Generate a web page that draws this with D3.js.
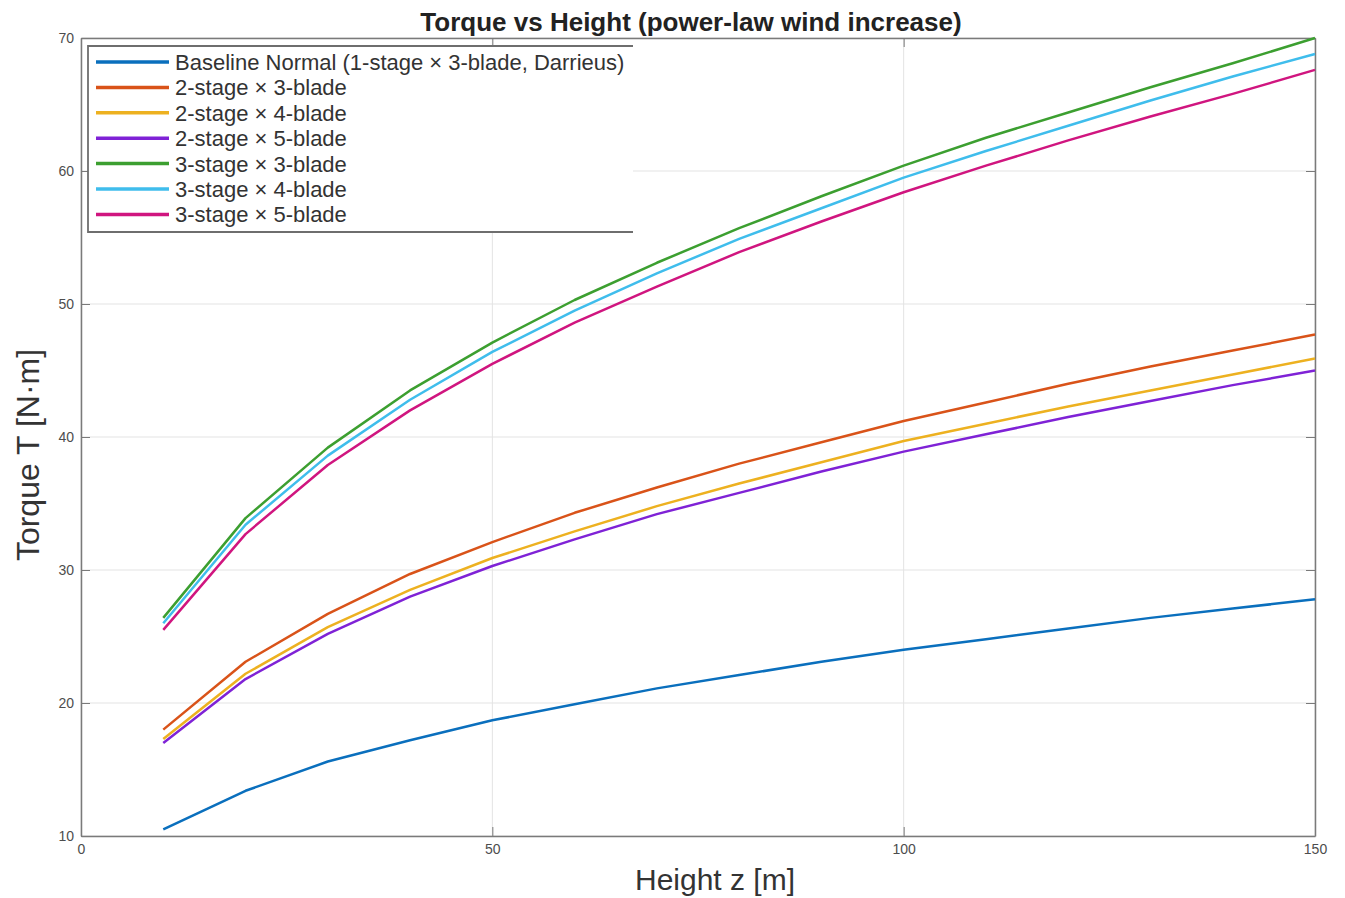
<!DOCTYPE html>
<html>
<head>
<meta charset="utf-8">
<script src="https://cdn.jsdelivr.net/npm/d3@7"></script>
<style>
  body { margin: 0; background: #fff; }
  svg { font-family: "Liberation Sans", Arial, sans-serif; }
</style>
</head>
<body>
<svg id="chart" width="1345" height="898"></svg>
<script>
// heights z [m]
const heights = [10, 20, 30, 40, 50, 60, 70, 80, 90, 100, 110, 120, 130, 140, 150];

const seriesNames = [
    "Baseline Normal (1-stage \u00d7 3-blade, Darrieus)",
    "2-stage \u00d7 3-blade",
    "2-stage \u00d7 4-blade",
    "2-stage \u00d7 5-blade",
    "3-stage \u00d7 3-blade",
    "3-stage \u00d7 4-blade",
    "3-stage \u00d7 5-blade"
];

const baseline = [10.5, 13.4, 15.6, 17.2, 18.7, 19.9, 21.1, 22.1, 23.1, 24.0, 24.8, 25.6, 26.4, 27.1, 27.8];
const s2x3 = [18.0, 23.1, 26.7, 29.7, 32.1, 34.3, 36.2, 38.0, 39.6, 41.2, 42.6, 44.0, 45.3, 46.5, 47.7];
const s2x4 = [17.3, 22.2, 25.7, 28.5, 30.9, 32.9, 34.8, 36.5, 38.1, 39.7, 41.0, 42.3, 43.5, 44.7, 45.9];
const s2x5 = [17.0, 21.8, 25.2, 28.0, 30.3, 32.3, 34.2, 35.8, 37.4, 38.9, 40.2, 41.5, 42.7, 43.9, 45.0];
const s3x3 = [26.4, 33.9, 39.2, 43.5, 47.1, 50.3, 53.1, 55.7, 58.1, 60.4, 62.5, 64.4, 66.3, 68.1, 70.0];
const s3x4 = [26.0, 33.4, 38.6, 42.8, 46.4, 49.5, 52.3, 54.9, 57.2, 59.5, 61.5, 63.4, 65.3, 67.1, 68.8];
const s3x5 = [25.5, 32.7, 37.9, 42.0, 45.5, 48.6, 51.3, 53.9, 56.2, 58.4, 60.4, 62.3, 64.1, 65.8, 67.6];

const xTicks = [0, 50, 100, 150];
const yTicks = [10, 20, 30, 40, 50, 60, 70];
const colors = ["#0a6fbd", "#d95319", "#edb120", "#7f22d6", "#3c9f30", "#3fbdec", "#d0157f"];

const allSeries = [baseline, s2x3, s2x4, s2x5, s3x3, s3x4, s3x5].map((vals, i) => ({
    name: seriesNames[i],
    color: colors[i],
    points: vals.map((v, j) => ({ z: heights[j], t: v }))
}));

const svg = d3.select("#chart");
const plotLeft = 81, plotRight = 1315, plotTop = 38, plotBottom = 836;

const x = d3.scaleLinear().domain([0, 150]).range([plotLeft, plotRight]);
const y = d3.scaleLinear().domain([10, 70]).range([plotBottom, plotTop]);

// grid
svg.append("g")
    .selectAll("line")
    .data(xTicks)
    .enter().append("line")
    .attr("x1", d => x(d)).attr("x2", d => x(d))
    .attr("y1", plotTop).attr("y2", plotBottom)
    .attr("stroke", "#e3e3e3").attr("stroke-width", 1);
svg.append("g")
    .selectAll("line")
    .data(yTicks)
    .enter().append("line")
    .attr("x1", plotLeft).attr("x2", plotRight)
    .attr("y1", d => y(d)).attr("y2", d => y(d))
    .attr("stroke", "#e3e3e3").attr("stroke-width", 1);

// axes (MATLAB style: ticks inside, on all four sides)
const axisColor = "#7a7a7a";
function styleAxis(g, hideLabels) {
    g.select(".domain").attr("stroke", axisColor).attr("stroke-width", 1.5);
    g.selectAll(".tick line").attr("stroke", axisColor);
    g.selectAll(".tick text").attr("fill", "#4d4d4d").attr("font-size", 14)
        .attr("font-family", "Liberation Sans, Arial, sans-serif");
    if (hideLabels) g.selectAll(".tick text").remove();
}

svg.append("g")
    .attr("transform", `translate(0,${plotBottom})`)
    .call(d3.axisBottom(x).tickValues(xTicks).tickSizeInner(-9).tickSizeOuter(0).tickPadding(8))
    .call(g => styleAxis(g, false));
svg.append("g")
    .attr("transform", `translate(0,${plotTop})`)
    .call(d3.axisTop(x).tickValues(xTicks).tickSizeInner(-9).tickSizeOuter(0))
    .call(g => styleAxis(g, true));
svg.append("g")
    .attr("transform", `translate(${plotLeft},0)`)
    .call(d3.axisLeft(y).tickValues(yTicks).tickSizeInner(-9).tickSizeOuter(0).tickPadding(7))
    .call(g => styleAxis(g, false));
svg.append("g")
    .attr("transform", `translate(${plotRight},0)`)
    .call(d3.axisRight(y).tickValues(yTicks).tickSizeInner(-9).tickSizeOuter(0))
    .call(g => styleAxis(g, true));

// lines
const line = d3.line().x(d => x(d.z)).y(d => y(d.t));
svg.append("g")
    .selectAll("path")
    .data(allSeries)
    .enter().append("path")
    .attr("d", d => line(d.points))
    .attr("fill", "none")
    .attr("stroke", d => d.color)
    .attr("stroke-width", 2.5)
    .attr("stroke-linejoin", "round");

// legend
const lg = svg.append("g");
lg.append("rect")
    .attr("x", 88).attr("y", 46)
    .attr("width", 545).attr("height", 186)
    .attr("fill", "#fff");
lg.append("path")
    .attr("d", "M633,46 H88 V232 H633")
    .attr("fill", "none")
    .attr("stroke", "#6e6e6e")
    .attr("stroke-width", 1.8);

const rows = lg.selectAll("g.row")
    .data(allSeries)
    .enter().append("g")
    .attr("class", "row")
    .attr("transform", (d, i) => `translate(0,${62 + i * 25.4})`);
rows.append("line")
    .attr("x1", 96).attr("x2", 169)
    .attr("stroke", d => d.color)
    .attr("stroke-width", 3.5);
rows.append("text")
    .attr("x", 175).attr("y", 8)
    .attr("font-size", 22)
    .attr("fill", "#333")
    .text(d => d.name);

// titles
svg.append("text")
    .attr("x", 691).attr("y", 31)
    .attr("text-anchor", "middle")
    .attr("font-size", 26).attr("font-weight", "bold")
    .attr("fill", "#222")
    .text("Torque vs Height (power-law wind increase)");

svg.append("text")
    .attr("x", 715).attr("y", 890)
    .attr("text-anchor", "middle")
    .attr("font-size", 30)
    .attr("fill", "#333")
    .text("Height z [m]");

svg.append("text")
    .attr("transform", "translate(39,455) rotate(-90)")
    .attr("text-anchor", "middle")
    .attr("font-size", 32)
    .attr("fill", "#333")
    .text("Torque T [N\u00b7m]");
</script>
</body>
</html>
